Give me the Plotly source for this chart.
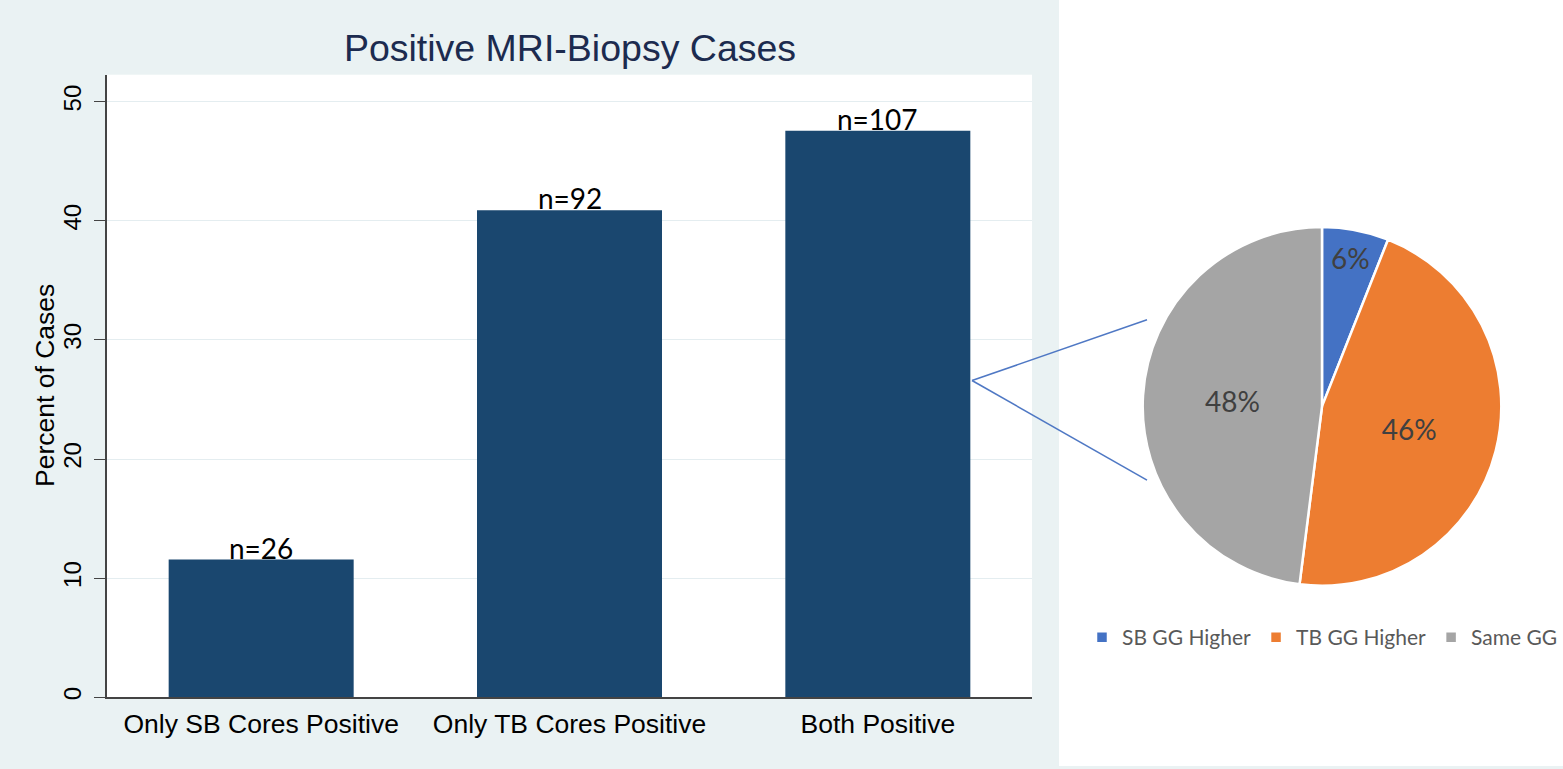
import plotly.graph_objects as go

# ---- data ----
bar_categories = ["Only SB Cores Positive", "Only TB Cores Positive", "Both Positive"]
bar_counts = [26, 92, 107]
bar_percents = [11.56, 40.89, 47.56]
y_ticks = [0, 10, 20, 30, 40, 50]

pie_labels = ["SB GG Higher", "TB GG Higher", "Same GG"]
pie_values = [6, 46, 48]

W, H = 1563, 769
px = lambda x: x / W
py = lambda y: 1 - y / H

STATA_FONT = "Liberation Sans, Arial, Helvetica, sans-serif"
OFFICE_FONT = "Lato, Open Sans, sans-serif"

fig = go.Figure()

fig.add_trace(go.Bar(
    x=bar_categories,
    y=bar_percents,
    marker=dict(color="#1a476f", line=dict(width=0)),
    showlegend=False,
    hoverinfo="skip",
))

# bar count labels sitting right on top of each bar
for cat, val, n in zip(bar_categories, bar_percents, bar_counts):
    fig.add_annotation(
        x=cat, y=val, xref="x", yref="y",
        text=f"n={n}", showarrow=False,
        yanchor="bottom", yshift=-7,
        font=dict(family=OFFICE_FONT, size=28, color="#000000"),
    )

# y-axis title
fig.add_annotation(
    x=px(45), y=0.5 * (py(700) + py(75)), xref="paper", yref="paper",
    text="Percent of Cases", textangle=-90, showarrow=False,
    xanchor="center", yanchor="middle",
    font=dict(family=STATA_FONT, size=26.5, color="#000000"),
)

fig.add_trace(go.Pie(
    labels=pie_labels,
    values=pie_values,
    sort=False,
    direction="clockwise",
    rotation=0,
    texttemplate="%{value}%",
    textposition="inside",
    insidetextorientation="horizontal",
    textfont=dict(family=OFFICE_FONT, size=28, color="#404040"),
    marker=dict(colors=["#4472c4", "#ed7d31", "#a5a5a5"], line=dict(color="white", width=2.5)),
    domain=dict(x=[px(1142), px(1502)], y=[py(588), py(228)]),
    showlegend=True,
    hoverinfo="skip",
))

fig.update_layout(
    width=W, height=H,
    margin=dict(l=0, r=0, t=0, b=0),
    paper_bgcolor="#eaf2f3",
    plot_bgcolor="#ffffff",
    bargap=0.4,
    uniformtext=dict(minsize=28, mode="show"),
    title=dict(
        text="Positive MRI-Biopsy Cases",
        x=px(570), xanchor="center",
        y=py(48), yanchor="middle",
        font=dict(family=STATA_FONT, size=37.5, color="#1c2b4f"),
    ),
    xaxis=dict(
        domain=[px(107), px(1032)],
        range=[-0.5, 2.5],
        showline=True, linecolor="#444444", linewidth=1.5,
        ticks="", showgrid=False,
        tickfont=dict(family=STATA_FONT, size=26.5, color="#000000"),
        ticklabelstandoff=2,
        fixedrange=True,
    ),
    yaxis=dict(
        domain=[py(700), py(75)],
        range=[0, 52.26],
        tickvals=y_ticks,
        tickangle=-90,
        showline=True, linecolor="#444444", linewidth=1.5,
        ticks="outside", ticklen=11, tickcolor="#444444", tickwidth=1.2,
        ticklabelstandoff=4,
        showgrid=True, gridcolor="#e4edf0", gridwidth=1.2,
        zeroline=False,
        tickfont=dict(family=STATA_FONT, size=24, color="#000000"),
        fixedrange=True,
    ),
    legend=dict(
        orientation="h",
        x=1, xanchor="right",
        y=py(640), yanchor="middle",
        font=dict(family=OFFICE_FONT, size=21, color="#595959"),
        bgcolor="rgba(0,0,0,0)",
        itemclick=False, itemdoubleclick=False,
    ),
    shapes=[
        # white area right of the Stata graph region
        dict(type="rect", xref="paper", yref="paper", x0=px(1059), x1=1, y0=0, y1=1,
             fillcolor="#ffffff", line=dict(width=0), layer="below"),
        # connector lines from the "Both Positive" bar to the pie
        dict(type="line", xref="paper", yref="paper", x0=px(972), y0=py(382), x1=px(1147), y1=py(321),
             line=dict(color="#4f78c4", width=1.6)),
        dict(type="line", xref="paper", yref="paper", x0=px(972), y0=py(382), x1=px(1147), y1=py(482),
             line=dict(color="#4f78c4", width=1.6)),
    ],
)

fig.write_html(
    "out.html",
    config={"displayModeBar": False},
    post_script="document.body.style.margin='0';document.body.style.overflow='hidden';",
)
